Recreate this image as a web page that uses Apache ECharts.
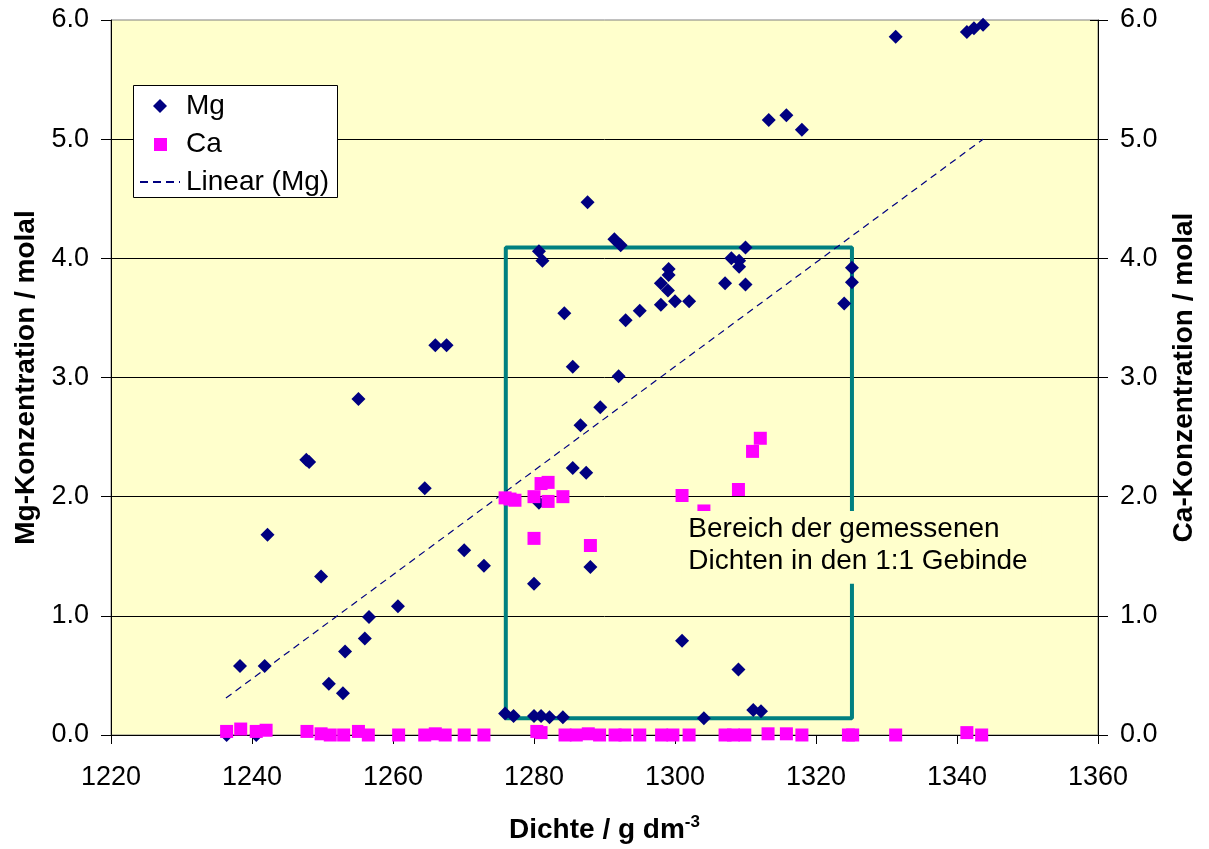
<!DOCTYPE html>
<html><head><meta charset="utf-8">
<script src="https://cdn.jsdelivr.net/npm/echarts@6/dist/echarts.min.js"></script>
<style>html,body{margin:0;padding:0;background:#fff}#c{width:1209px;height:849px}</style>
</head><body><div id="c"></div>
<script>
// ---- data ----
const mgX = [1236.4,1238.3,1240.6,1241.8,1242.2,1247.7,1248.1,1249.8,1250.9,1252.9,1253.2,1255.1,1256.0,1256.6,1260.7,1264.5,1266.0,1267.6,1270.1,1272.9,
  1275.9,1277.1,1280.0,1281.0,1282.2,1284.1,1280.0,1280.7,1288.0,1285.5,1287.4,1286.6,1289.4,1292.0,1285.5,1284.3,1293.0,1295.0,1298.0,1300.0,
  1302.0,1298.0,1299.0,1299.1,1299.1,1280.7,1281.2,1287.6,1291.4,1292.3,1307.1,1308.0,1309.1,1309.1,1310.0,1310.0,1301.0,1304.1,1309.0,1311.1,
  1312.2,1324.0,1325.1,1325.1,1313.3,1315.8,1318.0,1331.3,1341.4,1342.4,1343.7];
const mgY = [0.00,0.58,0.00,0.58,1.68,2.31,2.29,1.33,0.43,0.35,0.70,2.82,0.81,0.99,1.08,2.07,3.27,3.27,1.55,1.42,
  0.18,0.16,0.16,0.16,0.15,0.15,1.27,1.95,1.41,2.24,2.20,2.60,2.75,3.01,3.09,3.54,3.48,3.56,3.61,3.64,
  3.64,3.79,3.73,3.86,3.91,4.06,3.98,4.47,4.16,4.11,3.79,4.00,3.98,3.93,4.09,3.78,0.79,0.14,0.55,0.21,
  0.20,3.62,3.92,3.80,5.16,5.20,5.08,5.86,5.90,5.93,5.96];
const caX = [1236.4,1238.4,1240.6,1242.0,1247.8,1249.8,1251.1,1253.0,1255.1,1256.5,1260.8,1264.5,1266.0,1267.4,1270.1,1272.9,
  1280.4,1281.0,1284.4,1286.0,1287.7,1289.3,1291.5,1292.9,1295.0,1298.1,1299.7,1302.0,1307.1,1308.3,1309.9,1313.2,1315.8,1318.0,
  1324.6,1325.2,1331.3,1341.4,1343.5,
  1275.9,1276.6,1277.3,1280.0,1281.0,1282.0,1282.0,1284.1,1280.0,1288.0,1301.0,1304.1,1309.0,1311.0,1312.1];
const caY = [0.03,0.05,0.03,0.04,0.03,0.01,0.00,0.00,0.03,0.00,0.00,0.00,0.01,0.00,0.00,0.00,
  0.03,0.02,0.00,0.00,0.01,0.00,0.00,0.00,0.00,0.00,0.00,0.00,0.00,0.00,0.00,0.01,0.01,0.00,
  0.00,0.00,0.00,0.02,0.00,
  1.99,1.98,1.97,2.00,2.11,2.12,1.96,2.00,1.65,1.59,2.01,1.88,2.06,2.38,2.49];
const trendX = [1236.3, 1343.7];
const trendY = [0.31, 5.00];
const rangeX = [1276.0, 1325.1];
const rangeY = [0.14, 4.09];
const legendNames = ['Mg', 'Ca', 'Linear (Mg)'];
const annotLines = ['Bereich der gemessenen', 'Dichten in den 1:1 Gebinde'];
const annotBox = [1300.9, 1.88, 1352.0, 1.27]; // x0, yTop, x1, yBottom (data units)

// ---- chart ----
const FF = '"Liberation Sans", Arial, sans-serif';
const MG_COLOR = '#000080', CA_COLOR = '#FF00FF';
const chart = echarts.init(document.getElementById('c'), null, {renderer: 'canvas'});
const zip = (xs, ys) => xs.map((x, i) => [x, ys[i]]);
const rectPts = [[rangeX[0], rangeY[0]], [rangeX[0], rangeY[1]], [rangeX[1], rangeY[1]], [rangeX[1], rangeY[0]], [rangeX[0], rangeY[0]]];
const yFmt = v => v.toFixed(1);

chart.setOption({
  animation: false,
  backgroundColor: '#fff',
  grid: {left: 111, right: 111, top: 20, bottom: 110, show: true, backgroundColor: '#FFFFCC', borderColor: '#808080', borderWidth: 1},
  xAxis: {
    type: 'value', min: 1220, max: 1360, interval: 20,
    axisLine: {show: true, lineStyle: {color: '#000', width: 1}},
    axisTick: {show: true, length: 9, lineStyle: {color: '#000'}},
    splitLine: {show: false},
    axisLabel: {fontSize: 27, margin: 29, color: '#000', fontFamily: FF, formatter: v => String(v)},
    name: '{a|Dichte / g dm}{b|-3}', nameLocation: 'middle', nameGap: 79,
    nameTextStyle: {rich: {
      a: {fontSize: 28, fontWeight: 'bold', color: '#000', fontFamily: FF, lineHeight: 32},
      b: {fontSize: 17, fontWeight: 'bold', color: '#000', fontFamily: FF, lineHeight: 32, verticalAlign: 'top'}
    }}
  },
  yAxis: [
    {type: 'value', position: 'left', min: 0, max: 6, interval: 1,
     axisLine: {show: true, lineStyle: {color: '#000'}},
     axisTick: {show: true, length: 10, lineStyle: {color: '#000'}},
     splitLine: {show: true, showMaxLine: false, lineStyle: {color: '#000', width: 1}},
     axisLabel: {fontSize: 27, margin: 22, color: '#000', fontFamily: FF, formatter: yFmt},
     name: 'Mg-Konzentration / molal', nameLocation: 'middle', nameGap: 64, nameRotate: 90,
     nameTextStyle: {fontSize: 28, fontWeight: 'bold', color: '#000', fontFamily: FF}},
    {type: 'value', position: 'right', min: 0, max: 6, interval: 1,
     axisLine: {show: true, lineStyle: {color: '#000'}},
     axisTick: {show: true, length: 10, lineStyle: {color: '#000'}},
     splitLine: {show: false},
     axisLabel: {fontSize: 27, margin: 22, color: '#000', fontFamily: FF, formatter: yFmt},
     name: 'Ca-Konzentration / molal', nameLocation: 'middle', nameGap: 72, nameRotate: 90,
     nameTextStyle: {fontSize: 28, fontWeight: 'bold', color: '#000', fontFamily: FF}},
    {type: 'value', position: 'right', min: 0, max: 6, interval: 1,
     axisLine: {show: false}, axisLabel: {show: false}, splitLine: {show: false},
     axisTick: {show: true, inside: true, length: 8, lineStyle: {color: '#000'}}}
  ],
  series: [
    {name: 'range', type: 'line', data: rectPts, symbol: 'none', silent: true,
     lineStyle: {color: '#008080', width: 4}, z: 2},
    {name: legendNames[2], type: 'line', data: zip(trendX, trendY), symbol: 'none', silent: true,
     lineStyle: {color: MG_COLOR, width: 1.2, type: [7, 5]}, itemStyle: {color: MG_COLOR}, z: 3},
    {name: legendNames[0], type: 'scatter', yAxisIndex: 0, data: zip(mgX, mgY), symbol: 'diamond', symbolSize: 14,
     itemStyle: {color: MG_COLOR, opacity: 1}, z: 4},
    {name: legendNames[1], type: 'scatter', yAxisIndex: 1, data: zip(caX, caY), symbol: 'rect', symbolSize: 13,
     itemStyle: {color: CA_COLOR, opacity: 1}, z: 5}
  ]
});

// annotation box (anchored in data space)
const tl = chart.convertToPixel({xAxisIndex: 0, yAxisIndex: 0}, [annotBox[0], annotBox[1]]);
const br = chart.convertToPixel({xAxisIndex: 0, yAxisIndex: 0}, [annotBox[2], annotBox[3]]);

// legend box (drawn as graphic so symbols keep their aspect)
const LX = 133, LY = 85, LW = 204, LH = 112, rowY = [106, 144, 182];
const legendText = (t, y) => ({type: 'text', z: 111, x: 186, y: y,
  style: {text: t, fontSize: 28, fontFamily: FF, fill: '#000', verticalAlign: 'middle', align: 'left'}});

chart.setOption({graphic: [
  {type: 'group', z: 100, children: [
    {type: 'rect', z: 100, shape: {x: tl[0], y: tl[1], width: br[0] - tl[0], height: br[1] - tl[1]}, style: {fill: '#FFFFCC'}},
    {type: 'text', z: 101, x: tl[0] + 7, y: tl[1] + 2,
     style: {text: annotLines.join('\n'), fontSize: 28, fontFamily: FF, fill: '#000', lineHeight: 32}}
  ]},
  {type: 'group', z: 110, children: [
    {type: 'rect', z: 110, shape: {x: LX + 0.5, y: LY + 0.5, width: LW, height: LH}, style: {fill: '#fff', stroke: '#000', lineWidth: 1}},
    {type: 'polygon', z: 111, shape: {points: [[160, rowY[0] - 7], [167, rowY[0]], [160, rowY[0] + 7], [153, rowY[0]]]}, style: {fill: MG_COLOR}},
    {type: 'rect', z: 111, shape: {x: 154, y: rowY[1] - 6, width: 13, height: 13}, style: {fill: CA_COLOR}},
    {type: 'line', z: 111, shape: {x1: 140, y1: rowY[2], x2: 180, y2: rowY[2]}, style: {stroke: MG_COLOR, lineWidth: 2, lineDash: [8, 5]}},
    legendText(legendNames[0], rowY[0]),
    legendText(legendNames[1], rowY[1]),
    legendText(legendNames[2], rowY[2])
  ]}
]});
</script>
</body></html>
